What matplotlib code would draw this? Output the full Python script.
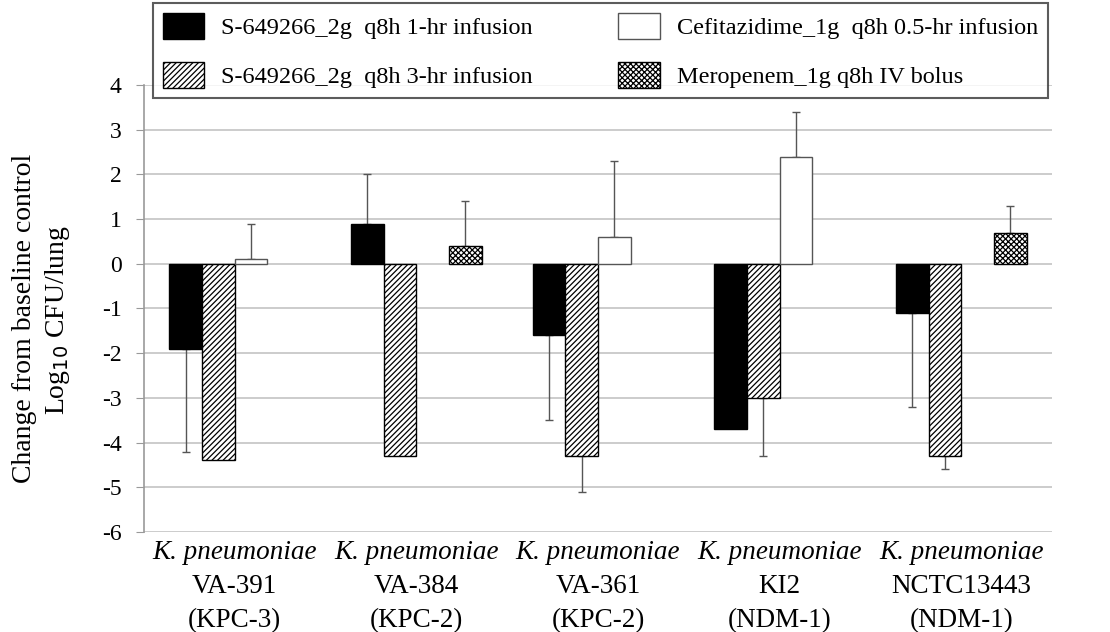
import numpy as np
import matplotlib
matplotlib.use('Agg')
import matplotlib.pyplot as plt
from matplotlib.patches import Patch

plt.rcParams['font.family'] = ['Liberation Serif', 'DejaVu Serif']
plt.rcParams['axes.unicode_minus'] = False
plt.rcParams['hatch.linewidth'] = 0.9

# ------------------------------------------------------------------------------
# data (log10 CFU/lung change; nan = not tested)
species  = ['K. pneumoniae'] * 5
strains  = ['VA-391', 'VA-384', 'VA-361', 'KI2', 'NCTC13443']
enzymes  = ['(KPC-3)', '(KPC-2)', '(KPC-2)', '(NDM-1)', '(NDM-1)']

s1hr     = [-1.9,  0.9, -1.6, -3.7, -1.1]
s1hr_err = [ 2.3,  1.1,  1.9,  0.0,  2.1]
s3hr     = [-4.4, -4.3, -4.3, -3.0, -4.3]
s3hr_err = [ 0.0,  0.0,  0.8,  1.3,  0.3]
caz      = [ 0.1, np.nan,  0.6,  2.4, np.nan]
caz_err  = [ 0.8, np.nan,  1.7,  1.0, np.nan]
mem      = [np.nan,  0.4, np.nan, np.nan,  0.7]
mem_err  = [np.nan,  1.0, np.nan, np.nan,  0.6]

labels = ['S-649266_2g  q8h 1-hr infusion',
          'S-649266_2g  q8h 3-hr infusion',
          'Cefitazidime_1g  q8h 0.5-hr infusion',
          'Meropenem_1g q8h IV bolus']

# ------------------------------------------------------------------------------
series = [
    (s1hr, s1hr_err, dict(facecolor='black', edgecolor='black')),
    (s3hr, s3hr_err, dict(facecolor='white', edgecolor='black', hatch='//////')),
    (caz,  caz_err,  dict(facecolor='white', edgecolor='#555555')),
    (mem,  mem_err,  dict(facecolor='white', edgecolor='black', hatch='xxxxxx')),
]

fig = plt.figure(figsize=(11.1, 6.32), dpi=100)
ax  = fig.add_axes([144/1110, 1-532/632, 908/1110, 447/632])

x     = np.arange(len(strains))
width = 0.18

handles = []
for idx, (vals, errs, style) in enumerate(series):
    vals = np.array(vals, dtype=float)
    errs = np.array(errs, dtype=float)
    pos  = x + (idx - 1.5) * width
    ax.bar(pos, vals, width, linewidth=1.0, zorder=3, **style)
    # one sided error bars, pointing away from zero
    lower = np.where(vals < 0, errs, 0)
    upper = np.where(vals >= 0, errs, 0)
    ok = ~np.isnan(vals) & (np.nan_to_num(errs) > 0)
    ax.errorbar(pos[ok], vals[ok], yerr=[lower[ok], upper[ok]], fmt='none',
                ecolor='#555555', elinewidth=1.0, capsize=3, capthick=1.0,
                zorder=2)
    handles.append(Patch(linewidth=1.0, **style))

ax.set_ylim(-6, 4)
ax.set_xlim(-0.5, len(strains) - 0.5)
ax.set_yticks(range(-6, 5))
ax.tick_params(axis='y', labelsize=17, length=6, color='#999999', pad=10)
ax.set_xticks([])
ax.yaxis.grid(True, color='#c4c4c4', linewidth=1.2, zorder=0)
ax.set_axisbelow(True)
for side in ['top', 'right', 'bottom']:
    ax.spines[side].set_visible(False)
ax.spines['left'].set_color('#999999')
ax.spines['left'].set_linewidth(1.2)

for i in range(len(strains)):
    ax.text(i, -0.018, species[i], transform=ax.get_xaxis_transform(),
            ha='center', va='top', fontsize=19.5, style='italic')
    ax.text(i, -0.095, strains[i], transform=ax.get_xaxis_transform(),
            ha='center', va='top', fontsize=19.5)
    ax.text(i, -0.170, enzymes[i], transform=ax.get_xaxis_transform(),
            ha='center', va='top', fontsize=19.5)

fig.text(25/1110, 1-318/632, 'Change from baseline control', rotation=90,
         ha='center', va='center', fontsize=20)
fig.text(57/1110, 1-320/632, r'Log$_{10}$ CFU/lung', rotation=90,
         ha='center', va='center', fontsize=20)

leg = fig.legend(handles, labels, ncol=2, loc='upper left',
                 bbox_to_anchor=(153/1110, 1-3/632-0.1, 895/1110, 0.1),
                 mode='expand', fontsize=17.5, frameon=True, fancybox=False,
                 handlelength=1.69, handleheight=1.23, handletextpad=0.7,
                 labelspacing=0.95, borderpad=0.42, columnspacing=2.0,
                 borderaxespad=0)
leg.get_frame().set_edgecolor('#333333')
leg.get_frame().set_linewidth(1.5)

fig.savefig('out.png', dpi=100)
